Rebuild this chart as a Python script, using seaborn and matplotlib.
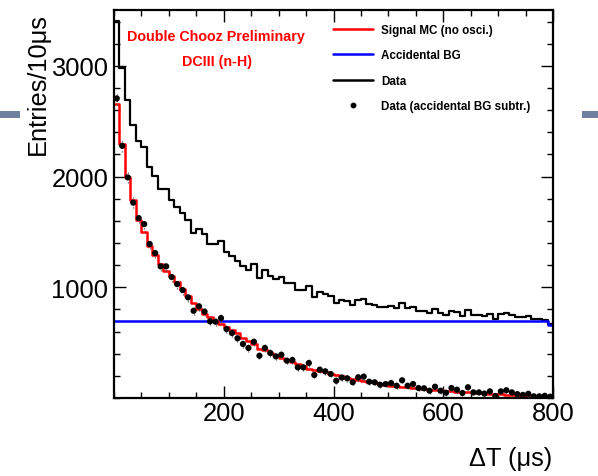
import matplotlib
matplotlib.use("Agg")
import matplotlib.pyplot as plt
import seaborn as sns
import pandas as pd
from matplotlib.lines import Line2D
from matplotlib.patches import Rectangle
from matplotlib.ticker import MultipleLocator, FixedLocator

# ---------------- data (10 us bins, 0 .. 800 us) ----------------
bin_edges = list(range(0, 810, 10))

signal_mc = [
    2655, 2294, 1993, 1785, 1610, 1496, 1375, 1291, 1210, 1150,
    1104, 1045, 984, 924, 855, 804, 759, 729, 698, 668,
    640, 610, 585, 540, 515, 490, 445, 430, 405, 385,
    365, 345, 325, 305, 285, 265, 255, 240, 232, 218,
    205, 195, 182, 172, 165, 155, 145, 142, 130, 120,
    112, 108, 100, 97, 92, 87, 82, 76, 72, 68,
    66, 60, 57, 53, 50, 47, 45, 42, 39, 36,
    33, 30, 27, 25, 23, 21, 19, 17, 16, 15,
]

accidental = [
    698, 698, 698, 698, 698, 698, 698, 698, 698, 698,
    698, 698, 698, 698, 698, 698, 698, 698, 698, 698,
    698, 698, 698, 698, 698, 698, 698, 698, 698, 698,
    698, 698, 698, 698, 698, 698, 698, 698, 698, 698,
    698, 698, 698, 698, 698, 698, 698, 698, 698, 698,
    698, 698, 698, 698, 698, 698, 698, 698, 698, 698,
    698, 698, 698, 698, 698, 698, 698, 698, 698, 698,
    698, 698, 698, 698, 698, 698, 698, 698, 698, 659,
]

data_raw = [
    3406, 2978, 2693, 2465, 2325, 2271, 2091, 2009, 1889, 1889,
    1793, 1729, 1675, 1609, 1488, 1528, 1480, 1392, 1389, 1422,
    1323, 1287, 1239, 1188, 1152, 1208, 1082, 1152, 1106, 1076,
    1091, 1037, 1043, 977, 977, 1016, 908, 956, 941, 917,
    856, 885, 878, 842, 887, 893, 847, 842, 820, 826,
    835, 811, 860, 811, 826, 790, 788, 766, 802, 766,
    748, 790, 775, 745, 797, 751, 751, 740, 760, 718,
    760, 770, 751, 735, 728, 738, 715, 715, 705, 668,
]

data_sub = [
    2706, 2278, 1993, 1765, 1625, 1571, 1391, 1309, 1189, 1189,
    1093, 1029, 975, 909, 788, 828, 780, 692, 689, 722,
    623, 587, 539, 488, 452, 508, 382, 452, 406, 376,
    391, 337, 343, 277, 277, 316, 208, 256, 241, 217,
    156, 185, 178, 142, 187, 193, 147, 142, 120, 126,
    135, 111, 160, 111, 126, 90, 88, 66, 102, 66,
    48, 90, 75, 45, 97, 51, 51, 40, 60, 18,
    60, 70, 51, 35, 28, 38, 15, 15, 20, 12,
]

data_err = [
    58, 55, 52, 50, 48, 48, 46, 45, 43, 43,
    42, 42, 41, 40, 39, 39, 38, 37, 37, 38,
    36, 36, 35, 34, 34, 35, 33, 34, 33, 33,
    33, 32, 32, 31, 31, 32, 30, 31, 31, 30,
    29, 30, 30, 29, 30, 30, 29, 29, 29, 29,
    29, 28, 29, 28, 29, 28, 28, 28, 28, 28,
    27, 28, 28, 27, 28, 27, 27, 27, 28, 27,
    28, 28, 27, 27, 27, 27, 27, 27, 27, 26,
]

legend_labels = ["Signal MC (no osci.)", "Accidental BG", "Data",
                 "Data (accidental BG subtr.)"]

# ---------------- style ----------------
sns.set_style("ticks")
plt.rcParams['font.family'] = ['Liberation Sans', 'DejaVu Sans']
plt.rcParams['text.color'] = 'black'
plt.rcParams['xtick.color'] = 'black'
plt.rcParams['ytick.color'] = 'black'
plt.rcParams['xtick.labelcolor'] = 'black'
plt.rcParams['ytick.labelcolor'] = 'black'

W, H = 598, 477
fig = plt.figure(figsize=(W / 100, H / 100), dpi=100)
ax = fig.add_axes([114 / W, 1 - 399 / H, (553 - 114) / W, (399 - 11) / H])

centers = [(a + b) / 2 for a, b in zip(bin_edges[:-1], bin_edges[1:])]
df = pd.DataFrame({"t": centers, "mc": signal_mc, "acc": accidental,
                   "data": data_raw, "sub": data_sub, "err": data_err})

sns.histplot(data=df, x="t", weights="data", bins=bin_edges, element="step",
             fill=False, color="black", linewidth=1.6, ax=ax)
sns.histplot(data=df, x="t", weights="acc", bins=bin_edges, element="step",
             fill=False, color="#0000ff", linewidth=1.8, ax=ax)
sns.histplot(data=df, x="t", weights="mc", bins=bin_edges, element="step",
             fill=False, color="#ff0000", linewidth=1.8, ax=ax)

eb = ax.errorbar(df["t"], df["sub"], yerr=df["err"], fmt="none",
                 ecolor="0.35", elinewidth=0.9, zorder=4)
eb[2][0].set_linestyle(":")
sns.scatterplot(data=df, x="t", y="sub", color="black", s=20,
                edgecolor="none", ax=ax, zorder=5)

ax.set_xlim(0, 800)
ax.set_ylim(0, 3505)
ax.set_xlabel("")
ax.set_ylabel("")

ax.xaxis.set_major_locator(FixedLocator([200, 400, 600, 800]))
ax.xaxis.set_minor_locator(MultipleLocator(50))
ax.yaxis.set_major_locator(FixedLocator([1000, 2000, 3000]))
ax.yaxis.set_minor_locator(MultipleLocator(200))
ax.tick_params(which="both", direction="in", top=True, right=True,
               width=1.0, color="black", labelcolor="black", labelsize=18.4)
ax.tick_params(which="major", length=8.6)
ax.tick_params(which="minor", length=4.3)
ax.tick_params(axis="x", which="major", pad=2)
ax.tick_params(axis="y", which="major", pad=4)
for s in ax.spines.values():
    s.set_linewidth(1.6)
    s.set_color("black")
    s.set_visible(True)

fig.text(38 / W, 1 - 13 / H, "Entries/10μs", rotation=90, ha="center",
         va="top", fontsize=18.3, color="black")
fig.text(552 / W, 1 - 459 / H, "ΔT (μs)", ha="right", va="center",
         fontsize=18.3, color="black")

fig.text(216 / W, 1 - 37 / H, "Double Chooz Preliminary", color="#ff0000",
         fontweight="bold", fontsize=10.3, ha="center", va="center")
fig.text(216.5 / W, 1 - 62 / H, "DCIII (n-H)", color="#ff0000",
         fontweight="bold", fontsize=10.3, ha="center", va="center")

handles = [Line2D([], [], color="#ff0000", lw=1.8),
           Line2D([], [], color="#0000ff", lw=1.8),
           Line2D([], [], color="black", lw=1.8),
           Line2D([], [], color="black", marker="o", linestyle="none",
                  markersize=3.2)]
fig.legend(handles, legend_labels, loc="upper left",
           bbox_to_anchor=(333 / W, 1 - 25 / H), frameon=False,
           prop={"weight": "bold", "size": 8.4}, handlelength=3.4,
           handletextpad=0.7, labelspacing=1.15, borderpad=0,
           borderaxespad=0)

# slide decoration bars
for x0, x1 in [(0, 20), (582, 598)]:
    fig.patches.append(Rectangle((x0 / W, 1 - 119 / H), (x1 - x0) / W, 7 / H,
                                 transform=fig.transFigure,
                                 facecolor="#6f7fa0", edgecolor="none"))

fig.savefig("out.png", dpi=100)
